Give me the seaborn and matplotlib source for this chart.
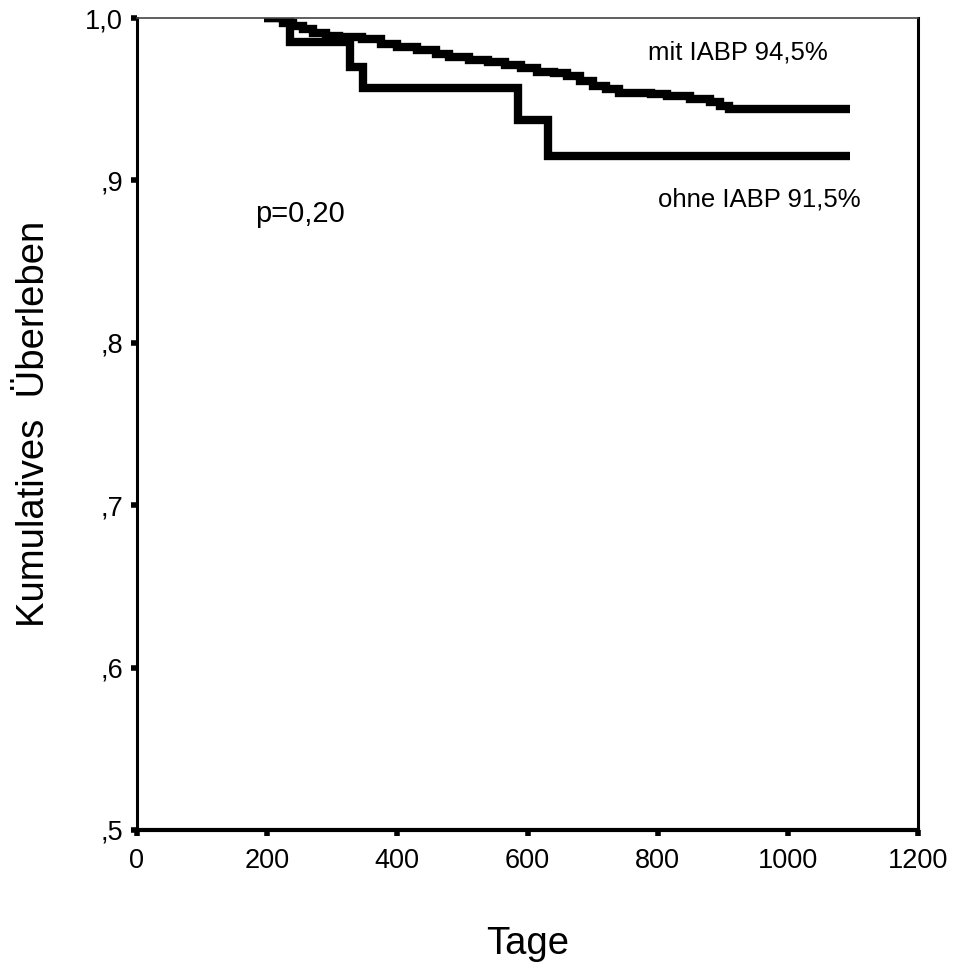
import matplotlib
matplotlib.use("Agg")
import matplotlib.pyplot as plt
import seaborn as sns
import pandas as pd

# Kaplan-Meier steps (days, cumulative survival)
mit_days = [195, 225, 240, 255, 270, 290, 310, 345, 375, 400, 430, 460, 480,
            510, 540, 565, 590, 615, 640, 660, 680, 700, 720, 740, 790, 815,
            850, 880, 895, 910, 1095]
mit_surv = [1.0, 0.997, 0.995, 0.993, 0.991, 0.989, 0.988, 0.987, 0.984, 0.982,
            0.980, 0.978, 0.976, 0.974, 0.973, 0.971, 0.969, 0.967, 0.966, 0.964,
            0.961, 0.958, 0.956, 0.954, 0.953, 0.952, 0.950, 0.948, 0.946, 0.944,
            0.944]

ohne_days = [195, 235, 328, 348, 585, 631, 1095]
ohne_surv = [1.0, 0.985, 0.970, 0.957, 0.937, 0.915, 0.915]

x_ticks = [0, 200, 400, 600, 800, 1000, 1200]
y_ticks = [0.5, 0.6, 0.7, 0.8, 0.9, 1.0]
y_labels = [",5", ",6", ",7", ",8", ",9", "1,0"]

sns.set_style("white")
plt.rcParams["font.family"] = ["Liberation Sans", "DejaVu Sans"]
plt.rcParams["text.color"] = "black"
plt.rcParams["axes.labelcolor"] = "black"

df_mit = pd.DataFrame({"Tage": mit_days, "Surv": mit_surv})
df_ohne = pd.DataFrame({"Tage": ohne_days, "Surv": ohne_surv})

fig = plt.figure(figsize=(9.54, 9.68), dpi=100)
ax = fig.add_axes([0.1436, 0.1426, 0.8187, 0.8388])

line_kw = dict(color="black", linewidth=6.0, drawstyle="steps-post",
               estimator=None, solid_capstyle="butt", solid_joinstyle="miter")
sns.lineplot(data=df_mit, x="Tage", y="Surv", ax=ax, **line_kw)
sns.lineplot(data=df_ohne, x="Tage", y="Surv", ax=ax, **line_kw)

ax.set_xlim(0, 1200)
ax.set_ylim(0.5, 1.0)
ax.set_xticks(x_ticks)
ax.set_xticklabels([str(t) for t in x_ticks])
ax.set_yticks(y_ticks)
ax.set_yticklabels(y_labels)
ax.tick_params(axis="both", bottom=True, left=True, direction="out",
               length=4, width=4, color="black", labelcolor="black",
               labelsize=19.5)
ax.tick_params(axis="x", pad=9)
ax.tick_params(axis="y", pad=6)

for side, lw, col in [("left", 2.2, "black"), ("bottom", 3.0, "black"),
                      ("right", 2.2, "black"), ("top", 1.2, "#444444")]:
    ax.spines[side].set_visible(True)
    ax.spines[side].set_linewidth(lw)
    ax.spines[side].set_color(col)

ax.set_xlabel("Tage", fontsize=27.5, color="black")
ax.set_ylabel("Kumulatives  Überleben", fontsize=27.5, color="black")
ax.xaxis.set_label_coords(0.5, -0.118)
ax.yaxis.set_label_coords(-0.109, 0.5)

ax.text(785, 0.979, "mit IABP 94,5%", fontsize=18.5, va="center", ha="left")
ax.text(800, 0.888, "ohne IABP 91,5%", fontsize=18.5, va="center", ha="left")
ax.text(181, 0.879, "p=0,20", fontsize=21, va="center", ha="left")

fig.savefig("out.png", dpi=100)
